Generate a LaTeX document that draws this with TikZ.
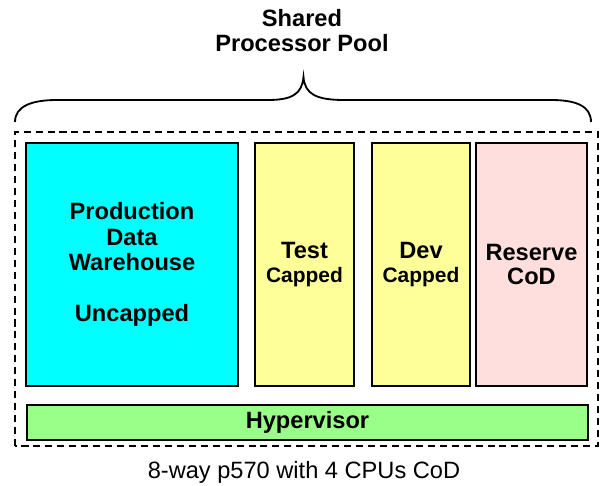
\documentclass[tikz,border=0pt]{standalone}
\usepackage{fontspec}
\setmainfont{Liberation Sans}
\usepackage{tikz}

\newcommand{\capfont}{\fontsize{14.9}{17}\selectfont}
\definecolor{prodcyan}{RGB}{0,255,255}
\definecolor{capyellow}{RGB}{255,255,153}
\definecolor{codpink}{RGB}{255,222,222}
\definecolor{hypgreen}{RGB}{153,255,136}

\begin{document}
\begin{tikzpicture}[
        lpar/.style={draw, line width=1.4pt, align=center, inner sep=0pt,
            font=\fontsize{16.8}{18.1}\selectfont\bfseries}
    ]

        \useasboundingbox (0,0) rectangle (15,12.15);

        % partitions
        \node[lpar, fill=prodcyan, minimum width=5.3cm, minimum height=6.075cm]
            (prod) at (3.3,5.5375) {Production\\Data\\Warehouse\\[18.1pt]Uncapped};
        \node[lpar, fill=capyellow, minimum width=2.475cm, minimum height=6.075cm]
            (test) at (7.6125,5.5375) {Test\\[-1pt]{\capfont Capped}};
        \node[lpar, fill=capyellow, minimum width=2.45cm, minimum height=6.075cm]
            (dev) at (10.525,5.5375) {Dev\\[-1pt]{\capfont Capped}};
        \node[lpar, fill=codpink, minimum width=2.775cm, minimum height=6.075cm]
            (reserve) at (13.2875,5.5375) {Reserve\\[-1pt]CoD};

        \node[lpar, fill=hypgreen, minimum width=14.025cm, minimum height=0.875cm]
            (hyper) at (7.6875,1.5875) {Hypervisor};

        \draw[line width=1.4pt, dash pattern=on 5pt off 3.5pt]
            (0.375,1.0) rectangle (14.95,8.85);

        % brace over the pool
        \draw[line width=1.3pt]
            (0.375,9.1) .. controls (0.375,9.5) and (0.8,9.65) .. (1.425,9.65)
            -- (6.7,9.65) .. controls (7.3,9.65) and (7.55,9.8) .. (7.5875,10.225)
            .. controls (7.62,9.8) and (7.9,9.65) .. (8.6,9.65)
            -- (13.775,9.65) .. controls (14.4,9.65) and (14.775,9.5) .. (14.775,9.1);

        \node[align=center, font=\fontsize{16.8}{17.8}\selectfont\bfseries]
            (pool) at (7.55,11.39) {Shared\\Processor Pool};

        \node[font=\fontsize{16.8}{18}\selectfont]
            (caption) at (7.6,0.35) {8-way p570 with 4 CPUs CoD};

\end{tikzpicture}
\end{document}
